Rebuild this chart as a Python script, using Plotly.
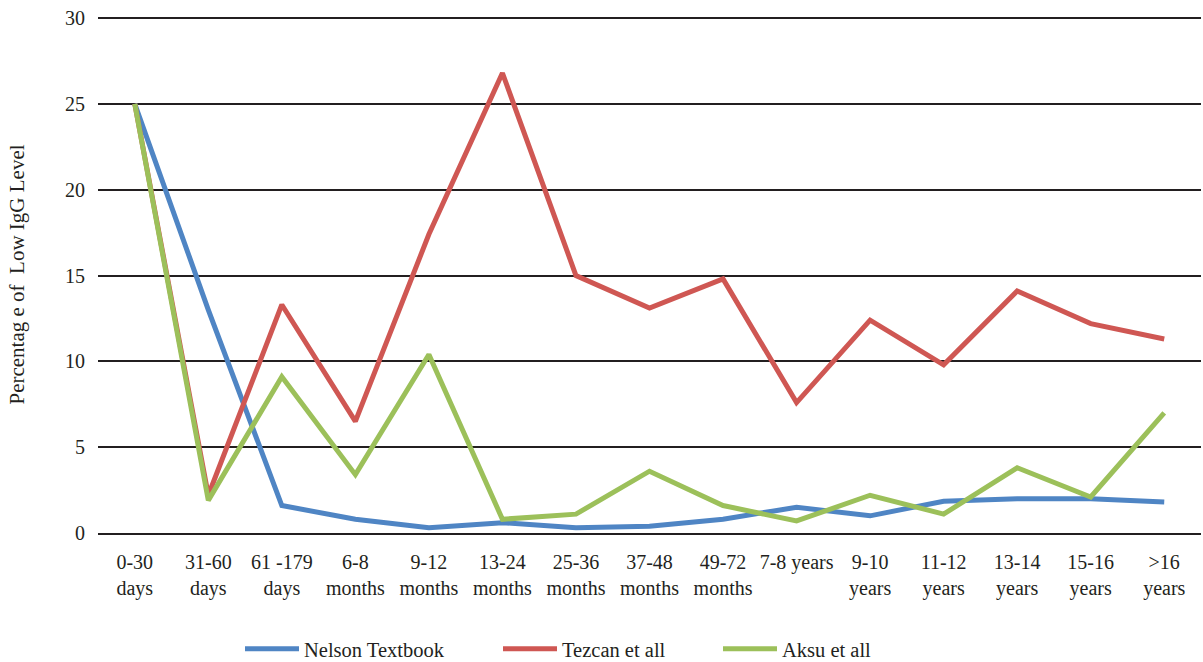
import plotly.graph_objects as go

# Age groups (x categories) and their two-line tick labels
categories = ["0-30 days", "31-60 days", "61-179 days", "6-8 months", "9-12 months",
              "13-24 months", "25-36 months", "37-48 months", "49-72 months", "7-8 years",
              "9-10 years", "11-12 years", "13-14 years", "15-16 years", ">16 years"]
tick_labels = ["0-30<br>days", "31-60<br>days", "61 -179<br>days", "6-8<br>months",
               "9-12<br>months", "13-24<br>months", "25-36<br>months", "37-48<br>months",
               "49-72<br>months", "7-8 years", "9-10<br>years", "11-12<br>years",
               "13-14<br>years", "15-16<br>years", "&gt;16<br>years"]

# Percentage of low IgG level per source
nelson = [25, 13, 1.6, 0.8, 0.3, 0.6, 0.3, 0.4, 0.8, 1.5, 1.0, 1.85, 2.0, 2.0, 1.8]
tezcan = [25, 2.2, 13.3, 6.5, 17.4, 26.8, 15.0, 13.1, 14.8, 7.6, 12.4, 9.8, 14.1, 12.2, 11.3]
aksu = [25, 1.9, 9.1, 3.4, 10.4, 0.8, 1.1, 3.6, 1.6, 0.7, 2.2, 1.1, 3.8, 2.1, 7.0]

series = [
    ("Nelson Textbook", nelson, "#4F85C4", "legend", 240),
    ("Tezcan et all", tezcan, "#CF5753", "legend2", 498),
    ("Aksu et all", aksu, "#9CC05A", "legend3", 718),
]

FONT = "Liberation Serif, Times New Roman, serif"
TEXT = "#231F20"
W, H = 1203, 662

fig = go.Figure()
for name, values, color, leg, _ in series:
    fig.add_trace(go.Scatter(
        x=categories, y=values, name=name, mode="lines",
        line=dict(color=color, width=5),
        legend=leg,
    ))

legend_common = dict(
    orientation="h", yanchor="middle", xanchor="left",
    xref="container", yref="container", y=1 - 649 / H,
    itemwidth=54,
    font=dict(family=FONT, size=20.5, color=TEXT),
    bgcolor="rgba(0,0,0,0)",
)

fig.update_layout(
    width=W, height=H,
    margin=dict(l=98, r=2, t=16, b=129, autoexpand=False),
    paper_bgcolor="white", plot_bgcolor="white",
    font=dict(family=FONT, size=20, color=TEXT),
    showlegend=True,
    **{leg: dict(legend_common, x=px / W) for _, _, _, leg, px in series},
    xaxis=dict(
        type="category", categoryorder="array", categoryarray=categories,
        tickmode="array", tickvals=categories, ticktext=tick_labels,
        range=[-0.5, len(categories) - 0.5], automargin=False,
        showgrid=False, showline=True, linecolor="#231F20", linewidth=2,
        ticks="", ticklabelstandoff=10,
        tickfont=dict(family=FONT, size=20, color=TEXT),
    ),
    yaxis=dict(
        range=[0, 30.12], tickvals=[0, 5, 10, 15, 20, 25, 30], automargin=False,
        showgrid=True, gridcolor="#231F20", gridwidth=1.5,
        zeroline=False, showline=False, ticks="", ticklabelstandoff=12,
        tickfont=dict(family=FONT, size=20, color=TEXT),
        title=dict(text="Percentag e of \u00a0Low IgG Level",
                   font=dict(family=FONT, size=21, color=TEXT), standoff=34),
    ),
)

fig.write_html("out.html")
